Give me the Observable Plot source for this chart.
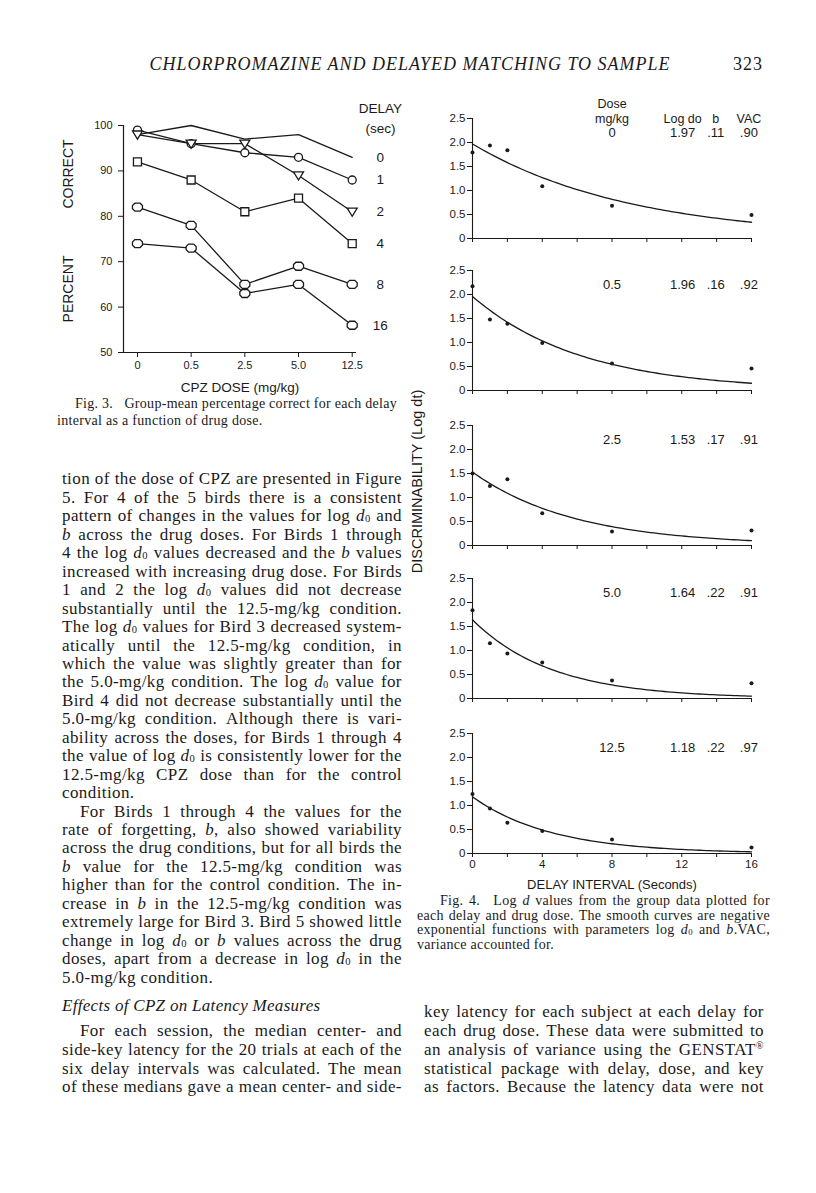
<!DOCTYPE html>
<html>
<head>
<meta charset="utf-8">
<script src="https://cdn.jsdelivr.net/npm/d3@7"></script>
<script src="https://cdn.jsdelivr.net/npm/@observablehq/plot@0.6"></script>
<style>
  html, body { margin:0; padding:0; background:#fff; }
  #page { position:relative; width:816px; height:1193px; background:#fff; color:#1a1a1a; overflow:hidden; }
  #page > * { position:absolute; }
  .serif { font-family:"Liberation Serif","Times New Roman",serif; }
  .jl { display:flex; justify-content:space-between; align-items:baseline; white-space:nowrap; }
  .ll { white-space:nowrap; }
  .sub { font-size:0.62em; position:relative; top:0.1em; line-height:0; }
  .sup { font-size:0.6em; position:relative; top:-0.55em; line-height:0; }
</style>
</head>
<body>
<div id="page"></div>
<script>
// ---------- Fig. 3 data ----------
const doseLabels = ["0", "0.5", "2.5", "5.0", "12.5"];
const delayLabels = [0, 1, 2, 4, 8, 16];
const pctDelay0  = [98, 100, 97, 98, 93];
const pctDelay1  = [99, 96, 94, 93, 88];
const pctDelay2  = [98, 96, 96, 89, 81];
const pctDelay4  = [92, 88, 81, 84, 74];
const pctDelay8  = [82, 78, 65, 69, 65];
const pctDelay16 = [74, 73, 63, 65, 56];
const pctTicks = [50, 60, 70, 80, 90, 100];

// ---------- Fig. 4 data ----------
const delaySec = [0, 1, 2, 4, 8, 16];
const logdDose0   = [1.79, 1.94, 1.84, 1.09, 0.68, 0.49];
const logdDose05  = [2.17, 1.48, 1.39, 0.99, 0.56, 0.46];
const logdDose25  = [1.50, 1.24, 1.38, 0.67, 0.29, 0.31];
const logdDose50  = [1.84, 1.15, 0.94, 0.75, 0.375, 0.32];
const logdDose125 = [1.24, 0.94, 0.64, 0.47, 0.29, 0.125];
const fitDose  = ["0", "0.5", "2.5", "5.0", "12.5"];
const fitLogD0 = [1.97, 1.96, 1.53, 1.64, 1.18];
const fitB     = [0.11, 0.16, 0.17, 0.22, 0.22];
const fitVAC   = [0.90, 0.92, 0.91, 0.91, 0.97];
const logdTicks = [0, 0.5, 1, 1.5, 2, 2.5];
const delayTicks = [0, 2, 4, 6, 8, 10, 12, 14, 16];

const page = document.getElementById("page");
const INK = "#1a1a1a";
const SANS = "'Liberation Sans', Arial, Helvetica, sans-serif";

function place(el, left, top) {
  el.style.position = "absolute";
  el.style.left = left + "px";
  el.style.top = top + "px";
  page.appendChild(el);
}

// ---------- text helpers ----------
function tok(w) {
  return w.replace(/\{d0\}/g, '<i>d</i><span class="sub">0</span>')
          .replace(/\{b\}/g, '<i>b</i>')
          .replace(/\{d\}/g, '<i>d</i>')
          .replace(/\{R\}/g, '<span class="sup">®</span>');
}
function addLine(text, x, yc, w, size, justify, indent, extra) {
  const d = document.createElement("div");
  d.className = "serif " + (justify ? "jl" : "ll");
  d.style.left = (x + (indent || 0)) + "px";
  d.style.top = (yc - size * 0.56) + "px";
  d.style.width = (w - (indent || 0)) + "px";
  d.style.fontSize = size + "px";
  d.style.lineHeight = size + "px";
  d.style.height = size + "px";
  if (extra) Object.assign(d.style, extra);
  if (justify) d.innerHTML = text.split(" ").map(s => "<span>" + tok(s) + "</span>").join("");
  else d.innerHTML = text.split(" ").map(tok).join(" ");
  page.appendChild(d);
}

// header
addLine("CHLORPROMAZINE AND DELAYED MATCHING TO SAMPLE", 110, 65, 600, 18, false, 0,
  {fontStyle: "italic", letterSpacing: "1px", textAlign: "center"});
addLine("323", 700, 65, 63, 18, false, 0, {textAlign: "right", letterSpacing: "1px"});

// ---------- Fig. 3 ----------
const pctSeries = [pctDelay0, pctDelay1, pctDelay2, pctDelay4, pctDelay8, pctDelay16];
const fig3Rows = [];
pctSeries.forEach((arr, s) => arr.forEach((v, i) => fig3Rows.push({delay: delayLabels[s], i, v})));
const x3 = [-0.26, 4.08];
const triDown = {draw(c) { c.moveTo(-5, -3.6); c.lineTo(5, -3.6); c.lineTo(0, 4.6); c.closePath(); }};
const squareSym = {draw(c) { c.moveTo(-4, -4); c.lineTo(4, -4); c.lineTo(4, 4); c.lineTo(-4, 4); c.closePath(); }};
const octSym = {draw(c) { c.moveTo(-2.6, -4); c.lineTo(2.6, -4); c.lineTo(5, -1.6); c.lineTo(5, 1.6); c.lineTo(2.6, 4); c.lineTo(-2.6, 4); c.lineTo(-5, 1.6); c.lineTo(-5, -1.6); c.closePath(); }};
const symFor = {1: "circle", 2: triDown, 4: squareSym, 8: octSym, 16: octSym};
const dotMarks = delayLabels.filter(d => d !== 0).map(d =>
  Plot.dot(fig3Rows.filter(r => r.delay === d), {x: "i", y: "v", symbol: symFor[d], r: 4, fill: "white", stroke: INK, strokeWidth: 1.3}));

const fig3 = Plot.plot({
  width: 336, height: 302,
  marginLeft: 63, marginTop: 30, marginRight: 40, marginBottom: 45,
  style: {background: "transparent", overflow: "visible", fontFamily: SANS, fontSize: "11px", color: INK},
  x: {domain: x3},
  y: {domain: [50, 100]},
  marks: [
    Plot.axisX({ticks: d3.range(doseLabels.length), tickFormat: i => doseLabels[i], tickSize: 5, tickPadding: 4, label: null}),
    Plot.axisY({ticks: pctTicks, tickSize: 5, tickPadding: 6, label: null}),
    Plot.ruleY([50], {stroke: INK, strokeWidth: 1.2}),
    Plot.ruleX([x3[0]], {stroke: INK, strokeWidth: 1.2}),
    Plot.line(fig3Rows, {x: "i", y: "v", z: "delay", stroke: INK, strokeWidth: 1.3}),
    ...dotMarks,
    Plot.text(fig3Rows, Plot.selectLast({x: "i", y: "v", z: "delay", text: "delay", dx: 28, fontSize: 13.5, textAnchor: "middle"})),
    Plot.text(["DELAY\n(sec)"], {frameAnchor: "top-right", textAnchor: "middle", lineAnchor: "middle", dx: 24, dy: -8.5, lineHeight: 1.45, fontSize: 13.5}),
    Plot.text(["CPZ DOSE (mg/kg)"], {frameAnchor: "bottom", textAnchor: "middle", lineAnchor: "middle", dy: 35, fontSize: 13.5}),
    Plot.text(["PERCENT"], {frameAnchor: "left", textAnchor: "middle", lineAnchor: "middle", rotate: -90, dx: -55, dy: 50, fontSize: 14}),
    Plot.text(["CORRECT"], {frameAnchor: "left", textAnchor: "middle", lineAnchor: "middle", rotate: -90, dx: -55, dy: -65, fontSize: 14})
  ]
});
place(fig3, 60, 95);

// ---------- Fig. 4 ----------
const logdSeries = [logdDose0, logdDose05, logdDose25, logdDose50, logdDose125];
const panelTops = [118, 270, 425, 578, 733];
const fmt2 = v => v.toFixed(2);
const fmtDec = v => v.toFixed(2).replace(/^0/, "");
const annoCols = [8, 12.05, 13.95, 15.85];
logdSeries.forEach((series, k) => {
  const last = k === logdSeries.length - 1;
  const pts = delaySec.map((t, j) => ({t, v: series[j]}));
  const curve = d3.range(0, 16.0001, 0.2).map(t => ({t, v: fitLogD0[k] * Math.exp(-fitB[k] * t)}));
  const values = [fitDose[k], fmt2(fitLogD0[k]), fmtDec(fitB[k]), fmtDec(fitVAC[k])].map((text, c) => ({col: annoCols[c], text}));
  const marks = [
    Plot.axisY({ticks: logdTicks, tickFormat: d => d === 0 ? "0" : d.toFixed(1), tickSize: 5, tickPadding: 2, label: null}),
    Plot.axisX({ticks: delayTicks, tickFormat: d => (last && d % 4 === 0) ? String(d) : "", tickSize: 4, tickPadding: 2, label: null}),
    Plot.ruleX([0], {stroke: INK, strokeWidth: 1.1}),
    Plot.ruleY([0], {stroke: INK, strokeWidth: 1.1}),
    Plot.line(curve, {x: "t", y: "v", stroke: INK, strokeWidth: 1.3}),
    Plot.dot(pts, {x: "t", y: "v", r: 2, fill: INK}),
    Plot.text(values, {x: "col", text: "text", frameAnchor: "top", textAnchor: "middle", lineAnchor: "middle", dy: 14.6, fontSize: 13})
  ];
  if (k === 0) {
    const heads = ["mg/kg", "Log do", "b", "VAC"].map((text, c) => ({col: annoCols[c], text}));
    marks.push(Plot.text(heads, {x: "col", text: "text", frameAnchor: "top", textAnchor: "middle", lineAnchor: "middle", dy: 0, fontSize: 12.5}));
    marks.push(Plot.text([{col: annoCols[0], text: "Dose"}], {x: "col", text: "text", frameAnchor: "top", textAnchor: "middle", lineAnchor: "middle", dy: -14.2, fontSize: 12.5}));
  }
  if (k === 2) {
    marks.push(Plot.text(["DISCRIMINABILITY (Log dt)"], {frameAnchor: "left", textAnchor: "middle", lineAnchor: "middle", rotate: -90, dx: -55, dy: -4, fontSize: 14.5}));
  }
  if (last) {
    marks.push(Plot.text(["DELAY INTERVAL (Seconds)"], {frameAnchor: "bottom", textAnchor: "middle", lineAnchor: "middle", dy: 31, fontSize: 13}));
  }
  const mb = last ? 45 : 15;
  const p = Plot.plot({
    width: 341, height: 35 + 120 + mb,
    marginLeft: 40, marginRight: 22, marginTop: 35, marginBottom: mb,
    style: {background: "transparent", overflow: "visible", fontFamily: SANS, fontSize: "11.5px", color: INK},
    x: {domain: [0, 16]},
    y: {domain: [0, 2.5]},
    marks
  });
  place(p, 432, panelTops[k] - 35);
});

// ---------- captions & body text ----------
const capStyle = {letterSpacing: "0.3px"};
const CAP3 = [
  ["Fig. 3.&nbsp;&nbsp; Group-mean percentage correct for each delay", 1, 18],
  ["interval as a function of drug dose.", 0, 0]
];
CAP3.forEach((l, n) => addLine(l[0], 57, 405 + n * 17, 340, 14, l[1] === 1, l[2], capStyle));

const CAP4 = [
  ["Fig. 4.&nbsp;&nbsp; Log {d} values from the group data plotted for", 1, 23],
  ["each delay and drug dose. The smooth curves are negative", 1, 0],
  ["exponential functions with parameters log {d0} and {b}.VAC,", 1, 0],
  ["variance accounted for.", 0, 0]
];
CAP4.forEach((l, n) => addLine(l[0], 417, 902 + n * 14.6, 353, 14, l[1] === 1, l[2], capStyle));

const bodyStyle = {letterSpacing: "0.4px"};
const LEFT = [
  ["tion of the dose of CPZ are presented in Figure", 1],
  ["5. For 4 of the 5 birds there is a consistent", 1],
  ["pattern of changes in the values for log {d0} and", 1],
  ["{b} across the drug doses. For Birds 1 through", 1],
  ["4 the log {d0} values decreased and the {b} values", 1],
  ["increased with increasing drug dose. For Birds", 1],
  ["1 and 2 the log {d0} values did not decrease", 1],
  ["substantially until the 12.5-mg/kg condition.", 1],
  ["The log {d0} values for Bird 3 decreased system-", 1],
  ["atically until the 12.5-mg/kg condition, in", 1],
  ["which the value was slightly greater than for", 1],
  ["the 5.0-mg/kg condition. The log {d0} value for", 1],
  ["Bird 4 did not decrease substantially until the", 1],
  ["5.0-mg/kg condition. Although there is vari-", 1],
  ["ability across the doses, for Birds 1 through 4", 1],
  ["the value of log {d0} is consistently lower for the", 1],
  ["12.5-mg/kg CPZ dose than for the control", 1],
  ["condition.", 0],
  ["For Birds 1 through 4 the values for the", 2],
  ["rate of forgetting, {b}, also showed variability", 1],
  ["across the drug conditions, but for all birds the", 1],
  ["{b} value for the 12.5-mg/kg condition was", 1],
  ["higher than for the control condition. The in-", 1],
  ["crease in {b} in the 12.5-mg/kg condition was", 1],
  ["extremely large for Bird 3. Bird 5 showed little", 1],
  ["change in log {d0} or {b} values across the drug", 1],
  ["doses, apart from a decrease in log {d0} in the", 1],
  ["5.0-mg/kg condition.", 0]
];
LEFT.forEach((l, n) => addLine(l[0], 62, 480 + n * 18.45, 340, 17, l[1] !== 0, l[1] === 2 ? 18 : 0, bodyStyle));

addLine("Effects of CPZ on Latency Measures", 62, 1007, 340, 17, false, 0, {fontStyle: "italic", letterSpacing: "0.3px"});

const LEFT2 = [
  ["For each session, the median center- and", 2],
  ["side-key latency for the 20 trials at each of the", 1],
  ["six delay intervals was calculated. The mean", 1],
  ["of these medians gave a mean center- and side-", 1]
];
LEFT2.forEach((l, n) => addLine(l[0], 62, 1032 + n * 18.65, 340, 17, true, l[1] === 2 ? 18 : 0, bodyStyle));

const RIGHT = [
  ["key latency for each subject at each delay for", 1],
  ["each drug dose. These data were submitted to", 1],
  ["an analysis of variance using the GENSTAT{R}", 1],
  ["statistical package with delay, dose, and key", 1],
  ["as factors. Because the latency data were not", 1]
];
RIGHT.forEach((l, n) => addLine(l[0], 424, 1013 + n * 18.75, 340, 17, true, 0, bodyStyle));
</script>
</body>
</html>
